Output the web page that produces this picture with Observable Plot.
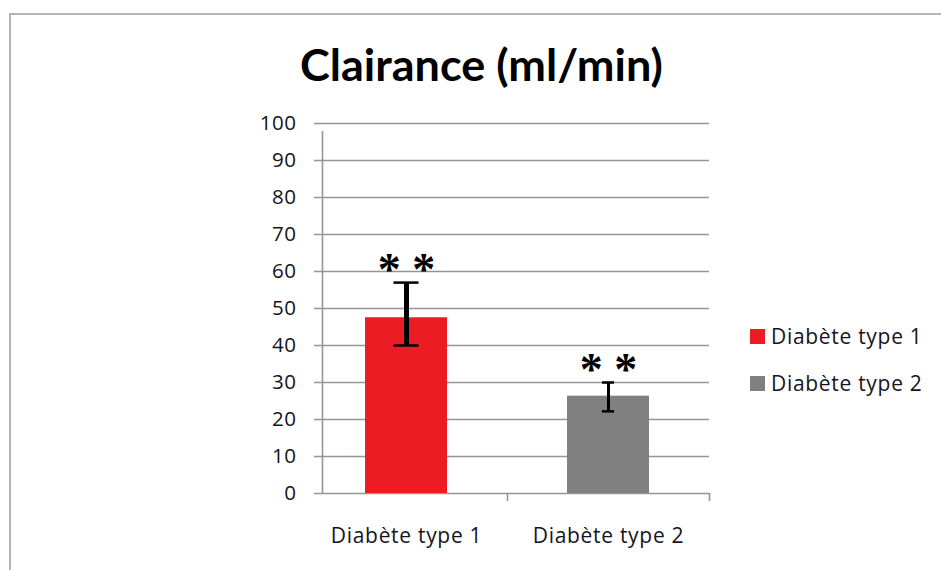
<!DOCTYPE html>
<html>
<head>
<meta charset="utf-8">
<script src="https://cdn.jsdelivr.net/npm/d3@7"></script>
<script src="https://cdn.jsdelivr.net/npm/@observablehq/plot@0.6"></script>
<style>
  html, body { margin: 0; padding: 0; background: #fff; overflow: hidden; }
  #wrap { position: relative; width: 941px; height: 570px; overflow: hidden; }
  #frame { position: absolute; left: 9px; top: 13px; width: 1000px; height: 1000px;
           border: 2px solid #b5b5b5; box-sizing: border-box; }
  #chart { position: absolute; left: 0; top: 0; }
  #title { position: absolute; left: 0; width: 962px; top: 38px; text-align: center;
           font-family: Lato, sans-serif; font-weight: bold; font-size: 44px; color: #000;
           white-space: nowrap; }
  #title span { display: inline-block; transform-origin: center; }
  .leg { position: absolute; left: 750px; font-family: "Open Sans", sans-serif; font-size: 21px; color: #141422;
         letter-spacing: 0.7px; display: flex; align-items: center; white-space: nowrap; }
  .leg i { display: inline-block; width: 15px; height: 15px; margin-right: 6px; }
  .catlab text { letter-spacing: 0.7px; }
  .ticklab text { letter-spacing: 0.5px; }
</style>
</head>
<body>
<div id="wrap">
  <div id="frame"></div>
  <div id="chart"></div>
  <div id="title"><span>Clairance (ml/min)</span></div>
  <div id="legend"></div>
</div>
<script>
const categories = ["Diabète type 1", "Diabète type 2"];
const means = [47.5, 26.3];
const errLow = [40, 22.2];
const errHigh = [57, 30];
const significance = ["**", "**"];
const colors = ["#ED1C24", "#808080"];
const yTicks = [0, 10, 20, 30, 40, 50, 60, 70, 80, 90, 100];

// layout
const xStart = 0.084;        // left edge of the plotting area (y axis position)
const barHalf = 0.203;
const capHalf = [0.062, 0.03];
const stemWidth = [5, 3];
const gridColor = "#959595";
const textColor = "#141422";
const font = "'Open Sans', sans-serif";

const data = categories.map((c, i) => ({
  cat: c, pos: i + 0.5, mean: means[i], lo: errLow[i], hi: errHigh[i],
  sig: significance[i], color: colors[i], capHalf: capHalf[i], stem: stemWidth[i]
}));
const xBounds = [xStart, ...categories.map((c, i) => i + 1)];

const marks = [
  Plot.ruleY(yTicks, {x1: xStart, x2: categories.length, stroke: gridColor, strokeWidth: 1.6, insetLeft: -8}),
  Plot.ruleX([xStart], {y1: 0, y2: 100, stroke: gridColor, strokeWidth: 1.6, insetBottom: -8}),
  Plot.ruleX(xBounds.slice(1), {y1: 0, y2: 0, stroke: gridColor, strokeWidth: 1.6, insetBottom: -8}),
  Plot.text(yTicks, {x: xStart, y: d => d, text: d => String(d), textAnchor: "end", dx: -26,
    fontFamily: font, fontSize: 20.5, fill: textColor, className: "ticklab"}),
  Plot.rect(data, {x1: d => d.pos - barHalf, x2: d => d.pos + barHalf, y1: 0, y2: "mean", fill: "color"}),
];
data.forEach(d => {
  marks.push(
    Plot.ruleX([d], {x: "pos", y1: "lo", y2: "hi", stroke: "#000", strokeWidth: d.stem}),
    Plot.ruleY([d], {y: "lo", x1: v => v.pos - v.capHalf, x2: v => v.pos + v.capHalf, stroke: "#000", strokeWidth: 2.5}),
    Plot.ruleY([d], {y: "hi", x1: v => v.pos - v.capHalf, x2: v => v.pos + v.capHalf, stroke: "#000", strokeWidth: 2.5})
  );
});
marks.push(
  Plot.text(data, {x: "pos", y: "hi", text: d => d.sig.split("").join(" "), dy: -12,
    fontFamily: "Liberation Serif, serif", fontWeight: "bold", fontSize: 46, fill: "#000"}),
  Plot.text(data, {x: "pos", y: 0, text: "cat", dy: 43, fontFamily: font, fontSize: 21, fill: textColor, className: "catlab"})
);

const chart = Plot.plot({
  width: 941, height: 570,
  marginLeft: 322, marginRight: 232, marginTop: 123, marginBottom: 77,
  x: {domain: [xStart, categories.length], axis: null},
  y: {domain: [0, 100], axis: null},
  color: {type: "identity"},
  style: {background: "transparent", overflow: "visible"},
  marks
});
document.getElementById("chart").appendChild(chart);

// legend
const legend = document.getElementById("legend");
const legTops = [322, 369];
categories.forEach((c, i) => {
  const row = document.createElement("div");
  row.className = "leg";
  row.style.top = legTops[i] + "px";
  row.innerHTML = `<i style="background:${colors[i]}"></i><span>${c}</span>`;
  legend.appendChild(row);
});

// fit title width to the reference's narrower face
const t = document.querySelector("#title span");
const w = t.getBoundingClientRect().width;
t.style.transform = `scaleX(${363 / w})`;
</script>
</body>
</html>
